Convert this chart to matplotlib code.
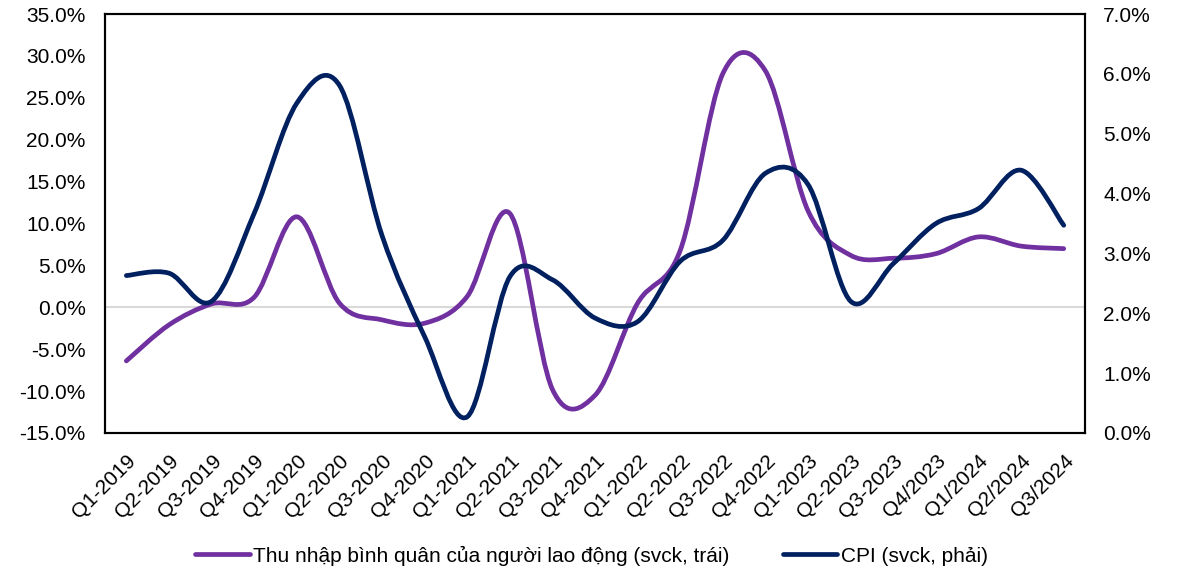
import numpy as np
import matplotlib
matplotlib.use('Agg')
import matplotlib.pyplot as plt
from matplotlib.path import Path
from matplotlib.patches import PathPatch
from matplotlib.lines import Line2D
from matplotlib.ticker import FuncFormatter

plt.rcParams['font.family'] = ['Liberation Sans', 'DejaVu Sans']

# Data
quarters = ['Q1-2019', 'Q2-2019', 'Q3-2019', 'Q4-2019',
            'Q1-2020', 'Q2-2020', 'Q3-2020', 'Q4-2020',
            'Q1-2021', 'Q2-2021', 'Q3-2021', 'Q4-2021',
            'Q1-2022', 'Q2-2022', 'Q3-2022', 'Q4-2022',
            'Q1-2023', 'Q2-2023', 'Q3-2023', 'Q4/2023',
            'Q1/2024', 'Q2/2024', 'Q3/2024']
income_yoy = [-6.4, -2.1, 0.4, 1.2, 10.8, 0.5, -1.5, -1.9, 1.3, 11.2, -9.8, -10.5,
              0.5, 6.8, 27.9, 28.2, 11.5, 6.2, 5.85, 6.4, 8.4, 7.3, 7.0]
cpi_yoy = [2.63, 2.67, 2.2, 3.67, 5.51, 5.81, 3.3, 1.61, 0.27, 2.61, 2.56, 1.92,
           1.86, 2.87, 3.22, 4.34, 4.15, 2.2, 2.83, 3.5, 3.75, 4.39, 3.47]

income_label = 'Thu nhập bình quân của người lao động (svck, trái)'
cpi_label = 'CPI (svck, phải)'
purple = '#7030A0'
navy = '#002060'
fs = 15


def smooth_path(xs, ys):
    # Excel-style smoothed line: Catmull-Rom converted to cubic Bezier segments
    pts = np.column_stack([xs, ys]).astype(float)
    n = len(pts)
    verts = [pts[0]]
    codes = [Path.MOVETO]
    for i in range(n - 1):
        p0 = pts[i - 1] if i > 0 else pts[i]
        p1 = pts[i]
        p2 = pts[i + 1]
        p3 = pts[i + 2] if i + 2 < n else pts[i + 1]
        c1 = p1 + (p2 - p0) / 6
        c2 = p2 - (p3 - p1) / 6
        verts += [c1, c2, p2]
        codes += [Path.CURVE4] * 3
    return Path(verts, codes)


fig = plt.figure(figsize=(11.83, 5.70), dpi=100)
ax = fig.add_axes([0.0888, 0.2404, 0.8284, 0.735])
ax2 = ax.twinx()

x = np.arange(len(quarters))

ax.axhline(0, color='#D9D9D9', lw=1.5, zorder=1)

ax.add_patch(PathPatch(smooth_path(x, income_yoy), fill=False, edgecolor=purple,
                       lw=3.4, capstyle='round', joinstyle='round', zorder=3))
ax2.add_patch(PathPatch(smooth_path(x, cpi_yoy), fill=False, edgecolor=navy,
                        lw=3.4, capstyle='round', joinstyle='round', zorder=3))

ax.set_xlim(-0.5, len(quarters) - 0.5)
ax.set_ylim(-15, 35)
ax.set_yticks(np.arange(-15, 36, 5))
ax2.set_ylim(0, 7)
ax2.set_yticks(np.arange(0, 8, 1))

pct = FuncFormatter(lambda v, p: f'{v:.1f}%')
ax.yaxis.set_major_formatter(pct)
ax2.yaxis.set_major_formatter(pct)

ax.set_xticks(x)
ax.set_xticklabels(quarters, rotation=45, ha='right', va='top',
                   rotation_mode='anchor', fontsize=fs)
ax.tick_params(axis='x', length=0, pad=13)
ax.tick_params(axis='y', length=0, pad=14, labelsize=fs)
ax2.tick_params(axis='y', length=0, pad=13, labelsize=fs)

for a in (ax, ax2):
    for s in a.spines.values():
        s.set_color('black')
        s.set_linewidth(1.5)

handles = [Line2D([], [], color=purple, lw=3.4, solid_capstyle='round'),
           Line2D([], [], color=navy, lw=3.4, solid_capstyle='round')]
fig.legend(handles, [income_label, cpi_label], loc='center',
           bbox_to_anchor=(0.5, 0.025), ncol=2, frameon=False, fontsize=fs,
           handlelength=2.6, handletextpad=0.15, columnspacing=2.6)

fig.savefig('out.png', dpi=100)
